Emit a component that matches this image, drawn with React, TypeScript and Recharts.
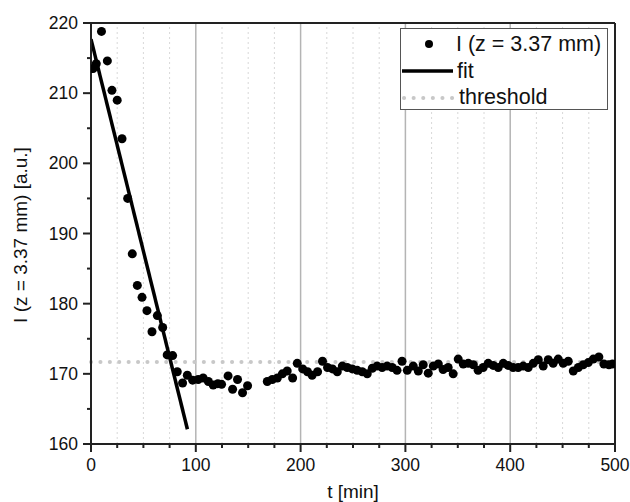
import {
  ComposedChart,
  Line,
  ReferenceLine,
  Scatter,
  XAxis,
  YAxis,
} from "recharts";

// measured intensity at z = 3.37 mm
const times = [
  2, 5, 10, 15.6, 20, 25, 29.6, 35, 39.4, 44.2, 48.7, 53.4, 58.2, 63.3, 68.4,
  72.7, 77.9, 82.3, 87.4, 91.9, 97, 102.3, 107, 112, 116.6, 121, 124.6, 130.8,
  135.1, 139.8, 144.6, 149.4, 168.2, 173, 177.8, 182.6, 187.2, 192.4, 196.8,
  202, 206.6, 211, 216.2, 220.9, 225.7, 230.4, 235, 239.8, 244.5, 249.3, 254,
  258.8, 263.6, 268.4, 273, 277.8, 282.6, 287.4, 292, 296.8, 301.8, 307.5,
  312.3, 317, 321.8, 326.6, 331.4, 336, 340.8, 345.6, 350.4, 355.2, 360, 364.8,
  369.4, 374.2, 379, 383.8, 388.6, 393.4, 398, 402.8, 407.6, 412.4, 417.2, 422,
  426.8, 431.5, 436.3, 441, 445.8, 450.6, 455.4, 460.2, 465, 469.7, 474.5,
  479.3, 484.6, 489.4, 494.2, 497.7,
];
const intensity = [
  213.5, 214.2, 218.8, 214.6, 210.4, 209.0, 203.5, 195.0, 187.1, 182.6, 180.9,
  179.0, 176.0, 178.3, 176.6, 172.7, 172.6, 170.3, 168.7, 169.8, 169.1, 169.2,
  169.4, 168.9, 168.4, 168.6, 168.5, 169.7, 167.8, 169.2, 167.3, 168.3, 168.9,
  169.2, 169.4, 170.0, 170.4, 169.4, 171.5, 170.7, 170.3, 169.8, 170.3, 171.8,
  170.9, 170.7, 170.3, 171.1, 170.9, 170.7, 170.5, 170.3, 170.0, 170.8, 171.1,
  170.9, 171.1, 170.9, 170.5, 171.8, 170.5, 171.1, 170.4, 171.3, 170.1, 171.1,
  171.4, 170.6, 170.9, 170.0, 172.1, 171.4, 171.5, 171.3, 170.5, 170.9, 171.5,
  171.2, 170.9, 171.5, 171.2, 170.9, 170.9, 171.1, 170.9, 171.5, 172.0, 171.1,
  172.0, 171.5, 172.1, 171.5, 171.8, 170.4, 170.9, 171.3, 171.6, 172.1, 172.4,
  171.4, 171.3, 171.4,
];

// linear fit over the drop
const fitTimes = [0, 92];
const fitValues = [217.7, 162.1];

const THRESHOLD = 171.7;

// axis ticks
const xTicks = [
  0, 25, 50, 75, 100, 125, 150, 175, 200, 225, 250, 275, 300, 325, 350, 375,
  400, 425, 450, 475, 500,
];
const yTicks = [160, 165, 170, 175, 180, 185, 190, 195, 200, 205, 210, 215, 220];
const majorGrid = [100, 200, 300, 400];
const minorGrid = xTicks.filter((t) => t % 100 !== 0);

const points = times.map((t, i) => ({ t, v: intensity[i] }));
const fitData = fitTimes.map((t, i) => ({ t, v: fitValues[i] }));

const FONT = "'Liberation Sans', Arial, sans-serif";
const AXIS = "#222";

const XTick = (props: any) => {
  const { x, y, payload } = props;
  const major = payload.value % 100 === 0;
  return (
    <g>
      <line x1={x} x2={x} y1={y} y2={y + (major ? 8 : 4)} stroke={AXIS} strokeWidth={2} />
      {major && (
        <text x={x} y={y + 27} textAnchor="middle" fontSize={17.5} fill="#111" fontFamily={FONT}>
          {payload.value}
        </text>
      )}
    </g>
  );
};

const YTick = (props: any) => {
  const { x, y, payload } = props;
  const major = payload.value % 10 === 0;
  return (
    <g>
      <line x1={x} x2={x - (major ? 8 : 4)} y1={y} y2={y} stroke={AXIS} strokeWidth={2} />
      {major && (
        <text x={x - 13} y={y + 6} textAnchor="end" fontSize={17.5} fill="#111" fontFamily={FONT}>
          {payload.value}
        </text>
      )}
    </g>
  );
};

const Dot = (props: any) => <circle cx={props.cx} cy={props.cy} r={4.5} fill="#000" />;

const LegendBox = () => (
  <div
    style={{
      position: "absolute",
      left: 400,
      top: 28,
      width: 208,
      height: 82,
      border: "1px solid #555",
      background: "#fff",
      boxSizing: "border-box",
      fontSize: 21.5,
      color: "#111",
    }}
  >
    <svg width={56} height={82} style={{ position: "absolute", left: 0, top: 0 }}>
      <circle cx={28} cy={15} r={4} fill="#000" />
      <line x1={1} x2={52} y1={42} y2={42} stroke="#000" strokeWidth={3.5} />
      <line
        x1={3}
        x2={52}
        y1={69}
        y2={69}
        stroke="#c8c8c8"
        strokeWidth={4}
        strokeDasharray="0.1 9.5"
        strokeLinecap="round"
      />
    </svg>
    <div style={{ position: "absolute", left: 55, top: 3, lineHeight: "24px" }}>I (z = 3.37 mm)</div>
    <div style={{ position: "absolute", left: 56, top: 30, lineHeight: "24px" }}>fit</div>
    <div style={{ position: "absolute", left: 58, top: 56, lineHeight: "24px" }}>threshold</div>
  </div>
);

export default function App() {
  return (
    <div
      style={{
        position: "absolute",
        left: 0,
        top: 0,
        width: 630,
        height: 502,
        background: "#fff",
        fontFamily: FONT,
      }}
    >
      <ComposedChart width={630} height={502} margin={{ top: 23, right: 15, bottom: 0, left: 0 }}>
        <XAxis
          dataKey="t"
          type="number"
          domain={[0, 500]}
          ticks={xTicks}
          interval={0}
          height={58}
          tickSize={0}
          tickMargin={0}
          tickLine={false}
          tick={<XTick />}
          axisLine={{ stroke: AXIS, strokeWidth: 2 }}
          allowDataOverflow
        />
        <YAxis
          dataKey="v"
          type="number"
          domain={[160, 220]}
          ticks={yTicks}
          interval={0}
          width={91}
          tickSize={0}
          tickMargin={0}
          tickLine={false}
          tick={<YTick />}
          axisLine={{ stroke: AXIS, strokeWidth: 2 }}
          allowDataOverflow
        />
        {minorGrid.map((g) => (
          <ReferenceLine key={`m${g}`} x={g} stroke="#d8d8d8" strokeWidth={1} strokeDasharray="2 3" />
        ))}
        {majorGrid.map((g) => (
          <ReferenceLine key={`M${g}`} x={g} stroke="#b4b4b4" strokeWidth={1.5} />
        ))}
        <ReferenceLine y={220} stroke={AXIS} strokeWidth={2} />
        <ReferenceLine x={500} stroke={AXIS} strokeWidth={2} />
        <Scatter data={points} dataKey="v" shape={<Dot />} isAnimationActive={false} />
        <Line
          data={fitData}
          dataKey="v"
          stroke="#000"
          strokeWidth={3.5}
          dot={false}
          activeDot={false}
          isAnimationActive={false}
        />
        <ReferenceLine
          y={THRESHOLD}
          stroke="#c8c8c8"
          strokeWidth={4}
          strokeDasharray="0.1 9.3"
          strokeLinecap="round"
        />
      </ComposedChart>
      <LegendBox />
      <div
        style={{
          position: "absolute",
          left: 21,
          top: 235,
          transform: "translate(-50%, -50%) rotate(-90deg)",
          whiteSpace: "nowrap",
          fontSize: 19,
          color: "#111",
        }}
      >
        I (z = 3.37 mm) [a.u.]
      </div>
      <div
        style={{
          position: "absolute",
          left: 353,
          top: 492,
          transform: "translate(-50%, -50%)",
          whiteSpace: "nowrap",
          fontSize: 19,
          color: "#111",
        }}
      >
        t [min]
      </div>
    </div>
  );
}
